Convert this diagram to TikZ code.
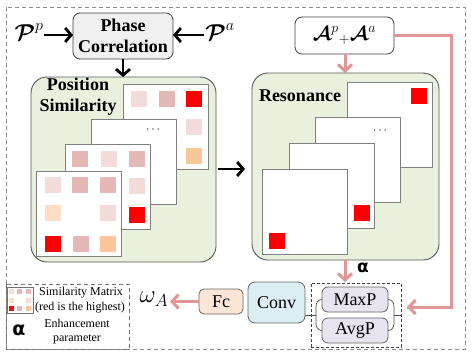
\RequirePackage{fix-cm}
\documentclass[tikz,border=0pt]{standalone}
\usepackage{amsmath}
\usepackage{bm}
\usepackage{fontspec}
\setmainfont{Liberation Serif}
\newfontfamily\dvsans{DejaVu Sans}
\usetikzlibrary{arrows.meta}
\definecolor{sqL}{RGB}{242,220,219}
\definecolor{sqM}{RGB}{228,184,183}
\definecolor{sqR}{RGB}{255,0,0}
\definecolor{sqO}{RGB}{249,197,155}
\definecolor{sqP}{RGB}{252,222,198}
\definecolor{grn}{RGB}{234,240,222}
\definecolor{pk}{RGB}{222,150,150}
\definecolor{gry}{RGB}{240,240,240}
\definecolor{blu}{RGB}{218,238,243}
\definecolor{pch}{RGB}{251,229,214}
\definecolor{lav}{RGB}{232,228,238}
\newcommand\cellsq[3]{\fill[#3] (#1,#2) rectangle ++(16,16);}
\newcommand\tinysq[3]{\fill[#3] (#1,#2) rectangle ++(5,5);}
\begin{document}
\begin{tikzpicture}[x=1pt,y=-1pt,
  mat/.style={draw=black!50,fill=white,line width=0.9pt,minimum width=85pt,minimum height=85pt,inner sep=0,outer sep=0,anchor=north west},
  gbox/.style={draw=black!65,fill=grn,line width=0.9pt,rounded corners=16pt},
  rbox/.style={draw=black!75,line width=0.8pt,rounded corners=7pt,inner sep=0,outer sep=0,anchor=north west},
  blk/.style={line width=2.8pt,-{Straight Barb[length=6pt,width=14pt]}},
  pkl/.style={draw=pk,line width=3pt},
  pka/.style={pkl,-{Straight Barb[length=6.5pt,width=14pt]}},
  ttl/.style={font=\fontsize{18}{21}\selectfont\bfseries,align=center,inner sep=0},
  lbl/.style={font=\fontsize{18}{20}\selectfont,inner sep=0},
  lg/.style={font=\fontsize{12}{13}\selectfont,inner sep=0}]
\useasboundingbox (0,0) rectangle (476,359);
\fill[white] (0,0) rectangle (476,359);
% outer border
\draw[black!45,dashed,line width=0.8pt,dash pattern=on 4pt off 3pt] (6,7) rectangle (465,349);
% legend box
\draw[black!55,dashed,line width=0.8pt,dash pattern=on 4pt off 3pt] (6,284) rectangle (129,349);

% Phase correlation
\node[rbox,fill=gry,minimum width=100pt,minimum height=46pt] (pc) at (73,13) {};
\node[ttl] (pct) at (pc.center) {Phase\\Correlation};
\node[inner sep=0,font=\fontsize{23}{23}\selectfont] (pp) at (29,32) {$\bm{\mathcal{P}}^{p}$};
\node[inner sep=0,font=\fontsize{23}{23}\selectfont] (pa) at (220,32) {$\bm{\mathcal{P}}^{a}$};
\draw[blk] (44,35) -- (pc.west |- 0,35);
\draw[blk] (204,35) -- (pc.east |- 0,35);

% left green box
\draw[gbox] (31,77) rectangle (216,262);
\coordinate (lbtop) at (123,77);
\draw[blk] (pc.south) -- (lbtop);
\node[ttl] (ps) at (78,97) {Position\\Similarity};

\node[mat] (m1) at (123,84) {};
\cellsq{131}{91}{sqL}\cellsq{159}{91}{sqM}\cellsq{186}{91}{sqR}
\cellsq{186}{119}{sqL}\cellsq{186}{148}{sqO}
\node[mat] (m2) at (91,119) {};
\node[inner sep=0,font=\fontsize{12}{12}\selectfont] (d1) at (154,130) {$\cdots$};
\node[mat] (m3) at (65,144) {};
\cellsq{72}{151}{sqM}\cellsq{101}{151}{sqL}\cellsq{129}{151}{sqM}
\cellsq{129}{178}{sqL}\cellsq{129}{207}{sqR}
\node[mat] (m4) at (36,171) {};
\cellsq{45}{177}{sqL}\cellsq{72}{177}{sqM}\cellsq{100}{177}{sqM}
\cellsq{45}{205}{sqP}\cellsq{100}{205}{sqL}
\cellsq{45}{236}{sqR}\cellsq{73}{236}{sqM}\cellsq{100}{236}{sqO}

% right green box
\draw[gbox] (252,73) rectangle (439,260);
\coordinate (lbr) at (218,169);
\coordinate (rbl) at (245,169);
\draw[blk] (lbr) -- (rbl);
\node[ttl] (rs) at (300,96) {Resonance};
\node[mat] (r1) at (347,82) {};
\cellsq{411}{88}{sqR}
\node[mat] (r2) at (315,117) {};
\node[inner sep=0,font=\fontsize{12}{12}\selectfont] (d2) at (381,131) {$\cdots$};
\node[mat] (r3) at (289,143) {};
\cellsq{354}{205}{sqR}
\node[mat] (r4) at (262,169) {};
\cellsq{269}{233}{sqR}

% A box
\node[rbox,fill=white,minimum width=99pt,minimum height=37pt] (ab) at (295,17) {};
\node[inner sep=0,font=\fontsize{20}{20}\selectfont] (abt) at (ab.center) {$\bm{\mathcal{A}}^{p}{}_{+}\bm{\mathcal{A}}^{a}$};
\coordinate (rbtop) at (345,73);
\draw[pka] (ab.south -| rbtop) -- (rbtop);

% bottom row
\node[draw=black!75,dashed,line width=0.7pt,dash pattern=on 3pt off 2pt,minimum width=90pt,minimum height=64pt,inner sep=0,outer sep=0,anchor=north west] (pool) at (311,283) {};
\node[rbox,fill=lav,minimum width=66pt,minimum height=25pt,rounded corners=6pt,draw=black!60] (mx) at (322,287) {};
\node[lbl] at (mx.center) {MaxP};
\node[rbox,fill=lav,minimum width=66pt,minimum height=25pt,rounded corners=6pt,draw=black!60] (av) at (322,318) {};
\node[lbl] at (av.center) {AvgP};
\node[rbox,fill=blu,minimum width=57pt,minimum height=41pt,draw=black!60] (cv) at (248,282) {};
\node[lbl] at (cv.center) {Conv};
\node[rbox,fill=pch,minimum width=44pt,minimum height=25pt,rounded corners=5pt,draw=black!60] (fc) at (199,289) {};
\node[lbl] at (fc.center) {Fc};
\node[inner sep=0,font=\fontsize{25}{25}\selectfont] (om) at (154,299) {$\omega_A$};
\coordinate (omr) at (170,301.5);
\draw[pka] (fc.west) -- (omr);

% brackets
\coordinate (lbk) at (316,315);
\coordinate (rbk) at (394,315);
\draw[black!70,line width=0.7pt] (mx.west) to[out=180,in=90] (316,306) -- (316,324) to[out=-90,in=180] (av.west);
\draw[black!70,line width=0.7pt] (cv.east |- lbk) -- (lbk);
\draw[black!70,line width=0.7pt] (mx.east) to[out=0,in=90] (394,306) -- (394,324) to[out=-90,in=0] (av.east);
\draw[black!70,line width=0.7pt] (rbk) -- (pool.east |- rbk);

% alpha arrow
\coordinate (rbbot) at (345,260);
\coordinate (pooltop) at (345,282);
\draw[pka] (rbbot) -- (pooltop);
\node[inner sep=0,font=\dvsans\bfseries\fontsize{17}{17}\selectfont] (al) at (363,268) {α};

% pink side path
\coordinate (pt1) at (451,35.5);
\coordinate (pt2) at (451,307);
\coordinate (pt3) at (407,307);
\draw[pkl] (ab.east) -- (pt1) -- (pt2) -- (pt3);
\draw[pka] (pt2) -- (pt3);

% legend
\node[draw=black!55,line width=0.7pt,minimum width=26pt,minimum height=26pt,inner sep=0,outer sep=0,anchor=north west,fill=white] (lm) at (7,287) {};
\tinysq{9}{289}{sqL}\tinysq{17}{289}{sqM}\tinysq{26}{289}{sqM}
\tinysq{9}{298}{sqP}\tinysq{26}{298}{sqL}
\tinysq{9}{306}{sqR}\tinysq{17}{306}{sqM}\tinysq{26}{306}{sqO}
\node[lg] (lt1) at (81,293) {Similarity Matrix};
\node[lg] (lt2) at (80,308) {(red is the highest)};
\node[inner sep=0,font=\dvsans\bfseries\fontsize{19}{19}\selectfont] (la) at (19,330) {α};
\node[lg] (lt3) at (77,323) {Enhancement};
\node[lg] (lt4) at (77,339) {parameter};
\end{tikzpicture}
\end{document}
